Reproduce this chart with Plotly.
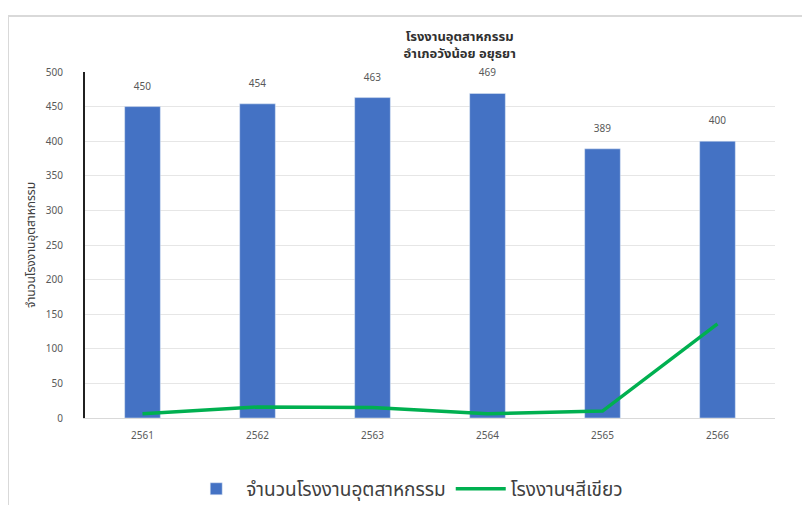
import plotly.graph_objects as go

years = ["2561", "2562", "2563", "2564", "2565", "2566"]
factories = [450, 454, 463, 469, 389, 400]
green_factories = [6, 16, 15, 6, 10, 136]

FONT = "Noto Sans, Noto Sans Thai, DejaVu Sans, sans-serif"

fig = go.Figure()
fig.add_trace(
    go.Bar(
        x=years,
        y=factories,
        name="จำนวนโรงงานอุตสาหกรรม",
        marker_color="#4472C4",
        # small blank second line lifts the label above the bar like the original
        text=[f"{v}<br><span style='font-size:3px'> </span>" for v in factories],
        textposition="outside",
        textfont=dict(size=10, color="#595959"),
        cliponaxis=False,
    )
)
fig.add_trace(
    go.Scatter(
        x=years,
        y=green_factories,
        mode="lines",
        name="โรงงานฯสีเขียว",
        line=dict(color="#00B050", width=3.5),
    )
)

# frame line at top and left of the screenshot
fig.add_shape(type="line", xref="paper", yref="paper",
              x0=-0.1116, x1=1.06, y0=1.1618, y1=1.1618,
              line=dict(color="#D9D9D9", width=2))
fig.add_shape(type="line", xref="paper", yref="paper",
              x0=-0.1116, x1=-0.1116, y0=1.1618, y1=-0.26,
              line=dict(color="#D9D9D9", width=2))

fig.update_layout(
    width=802,
    height=497,
    margin=dict(l=77, r=35, t=64, b=87, autoexpand=False),
    paper_bgcolor="white",
    plot_bgcolor="white",
    font=dict(family=FONT, color="#595959"),
    title=dict(
        text="<b>โรงงานอุตสาหกรรม<br>อำเภอวังน้อย อยุธยา</b>",
        xref="paper",
        x=0.543,
        xanchor="center",
        y=0.933,
        yanchor="middle",
        font=dict(size=13, color="#303030"),
    ),
    bargap=0.69,
    showlegend=True,
    legend=dict(
        orientation="h",
        x=0.467,
        xanchor="center",
        y=-0.205,
        yanchor="middle",
        font=dict(size=19, color="#404040"),
        itemwidth=50,
    ),
    xaxis=dict(
        type="category",
        showline=True,
        linecolor="#D9D9D9",
        ticks="",
        tickfont=dict(size=10, color="#595959"),
        ticklabelstandoff=8,
        showgrid=False,
        automargin=False,
    ),
    yaxis=dict(
        range=[0, 500],
        dtick=50,
        showgrid=True,
        gridcolor="#E6E6E6",
        showline=True,
        linecolor="#202020",
        linewidth=2,
        zeroline=False,
        tickfont=dict(size=10, color="#595959"),
        ticklabelstandoff=18,
        automargin=False,
        title=dict(text="จำนวนโรงงานอุตสาหกรรม", font=dict(size=12, color="#404040"), standoff=8),
    ),
)

fig.write_html("out.html")
